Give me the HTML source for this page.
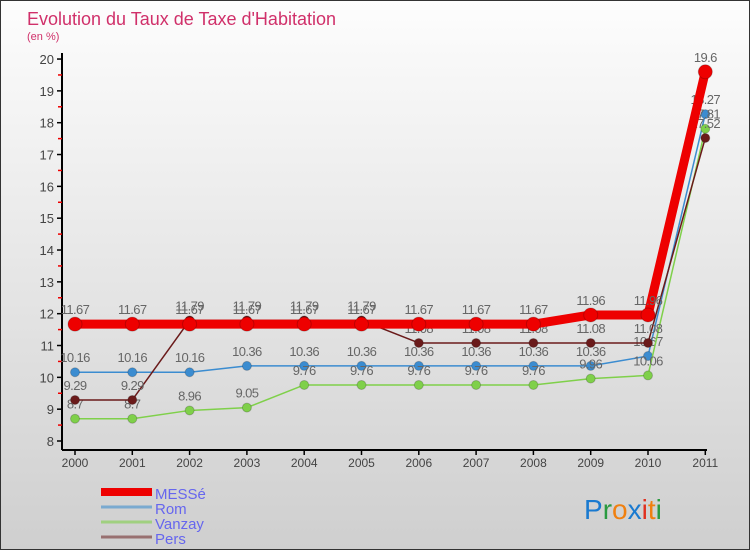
<!DOCTYPE html>
<html><head><meta charset="utf-8"><style>
body{margin:0;width:750px;height:550px;overflow:hidden;font-family:"Liberation Sans",sans-serif}
#wrap{position:relative;width:748px;height:548px;border:1px solid #333;background:linear-gradient(#fdfdfd,#cfcfcf)}
</style></head><body>
<div id="wrap">
<svg id="chart" width="748" height="548"></svg>
</div>
<script>
const years=["2000","2001","2002","2003","2004","2005","2006","2007","2008","2009","2010","2011"];
const messe=[11.67,11.67,11.67,11.67,11.67,11.67,11.67,11.67,11.67,11.96,11.96,19.6];
const rom=[10.16,10.16,10.16,10.36,10.36,10.36,10.36,10.36,10.36,10.36,10.67,18.27];
const vanzay=[8.7,8.7,8.96,9.05,9.76,9.76,9.76,9.76,9.76,9.96,10.06,17.81];
const pers=[9.29,9.29,11.79,11.79,11.79,11.79,11.08,11.08,11.08,11.08,11.08,17.52];
const yTicks=[8,9,10,11,12,13,14,15,16,17,18,19,20];
const NS="http://www.w3.org/2000/svg";
const svg=document.getElementById('chart');
const X=i=>74+i*57.3;
const Y=v=>440-(v-8)*31.83;
function mk(t,a,p){const e=document.createElementNS(NS,t);for(const k in a)e.setAttribute(k,a[k]);(p||svg).appendChild(e);return e;}
let t=mk('text',{x:26,y:24,fill:'#d0306a','font-size':18,'font-weight':'300'});t.textContent="Evolution du Taux de Taxe d'Habitation";


t=mk('text',{x:26,y:39,fill:'#d0306a','font-size':11});t.textContent="(en %)";


let a=mk('line',{x1:61,y1:52,x2:61,y2:449,stroke:'#000','stroke-width':2});


a=mk('line',{x1:61,y1:449,x2:706,y2:449,stroke:'#000','stroke-width':2});


yTicks.forEach(v=>{
 mk('line',{x1:56,y1:Y(v),x2:61,y2:Y(v),stroke:'#000','stroke-width':1.5});
 if(v<20)mk('line',{x1:57,y1:Y(v+0.5),x2:61,y2:Y(v+0.5),stroke:'#e00','stroke-width':1.5});
 const l=mk('text',{x:53,y:Y(v)+5,'text-anchor':'end','font-size':13,fill:'#444'});l.textContent=v;
 
 
});
years.forEach((y,i)=>{
 mk('line',{x1:X(i),y1:449,x2:X(i),y2:454,stroke:'#000','stroke-width':1.5});
 const l=mk('text',{x:X(i),y:466,'text-anchor':'middle','font-size':12,fill:'#444'});l.textContent=y;
 
 
});
function series(vals,color,w,r,name){
 const g=mk('g',{});
 
 
 mk('polyline',{points:vals.map((v,i)=>X(i)+','+Y(v)).join(' '),fill:'none',stroke:color,'stroke-width':w,'stroke-linejoin':'round'},g);
 vals.forEach((v,i)=>{
  const c=mk('circle',{cx:X(i),cy:Y(v),r:r,fill:color,stroke:'rgba(0,0,0,0.2)'},g);
  
  
  const l=mk('text',{x:X(i),y:Y(v)-10,'text-anchor':'middle','font-size':13,fill:'#666','letter-spacing':'-0.6'},g);
  l.textContent=v;
  
  
 });
}
series(rom,'#3b8cd0',1.5,4.5,'rom');
series(vanzay,'#7fd04a',1.5,4.5,'vanzay');
series(pers,'#6a1a1a',1.5,4.5,'pers');
series(messe,'#ee0000',9,7,'messe');
const leg=[["MESSé",'#ee0000',8],["Rom",'#7aaad0',3],["Vanzay",'#a0d080',3],["Pers",'#987070',3]];
leg.forEach((d,i)=>{
 const g=mk('g',{});
 
 
 const yy=491+i*15;
 mk('line',{x1:100,y1:yy,x2:151,y2:yy,stroke:d[1],'stroke-width':d[2]},g);
 const l=mk('text',{x:154,y:yy+7,'font-size':15,fill:'#6666ee'},g);l.textContent=d[0];
});
const lg=mk('text',{x:583,y:518,'font-size':28});


[['P','#1a7ad0'],['r','#2a9a40'],['o','#f08010'],['x','#1a7ad0'],['i','#e03020'],['t','#f08010'],['i','#2a9a40']].forEach(c=>{const s=mk('tspan',{fill:c[1]},lg);s.textContent=c[0];});
</script>
</body></html>
